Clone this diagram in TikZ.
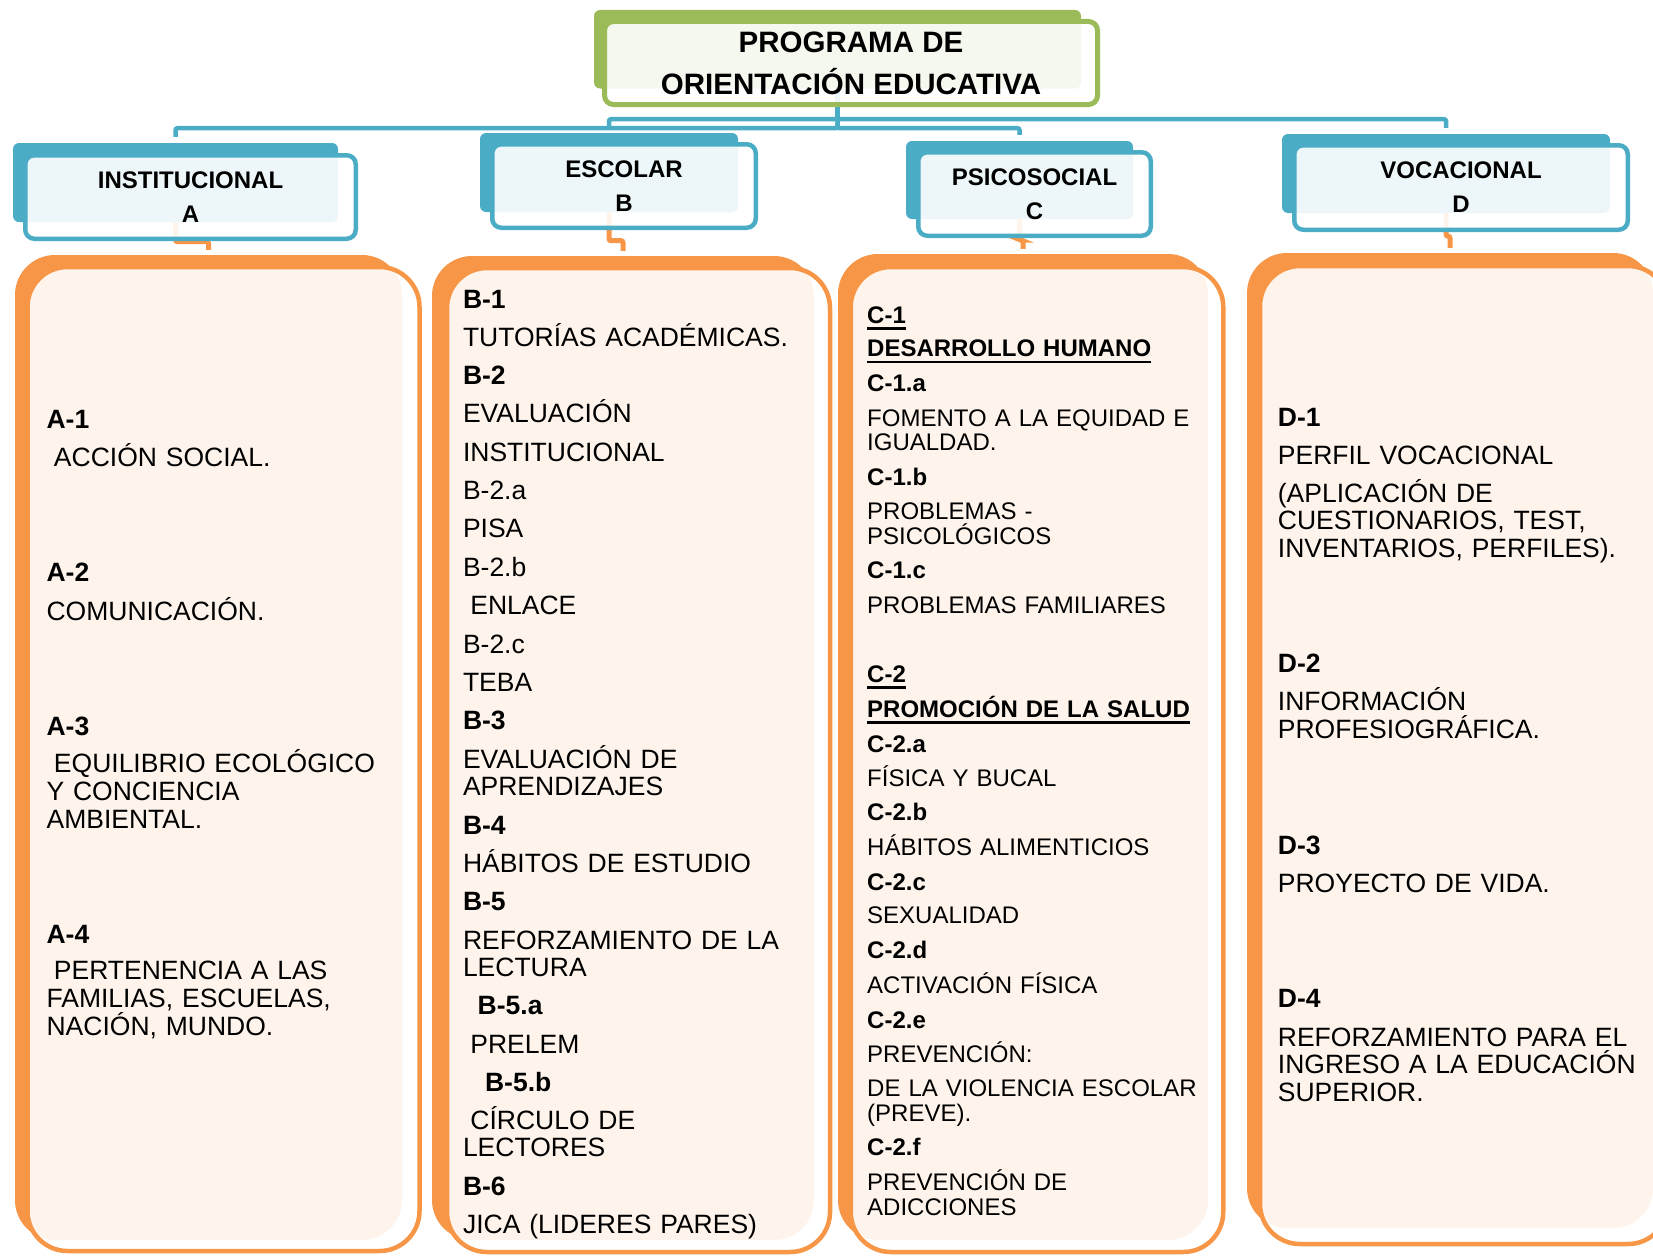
\documentclass[tikz,border=0pt]{standalone}
\usepackage{fontspec}
\setmainfont{Liberation Sans}
\usetikzlibrary{calc}
\definecolor{cblue}{HTML}{4BACC6}
\definecolor{corange}{HTML}{F79646}
\definecolor{cgreen}{HTML}{9BBB59}
\newcommand\lsp{\hspace*{0.278em}}
\newcommand\myul[1]{\setbox0=\hbox{#1}\rlap{\rule[-6.5pt]{\wd0}{2.5pt}}\box0}
\tikzset{
  tback/.style={rectangle, fill=cgreen, rounded corners=6pt, inner sep=0pt},
  tfront/.style={rectangle, draw=cgreen, line width=5pt, fill=white, fill opacity=0.9, text opacity=1,
    rounded corners=9pt, inner sep=0pt, align=center, font=\fontsize{29.5}{42}\selectfont\bfseries},
  hback/.style={rectangle, fill=cblue, rounded corners=6pt, inner sep=0pt},
  hfront/.style={rectangle, draw=cblue, line width=4.5pt, fill=white, fill opacity=0.9, text opacity=1,
    rounded corners=9pt, inner sep=0pt, align=center, font=\fontsize{24}{34.2}\selectfont\bfseries},
  oback/.style={rectangle, fill=corange, rounded corners=40pt, inner sep=0pt},
  ofront/.style={rectangle, draw=corange, line width=4.5pt, fill=white, fill opacity=0.9,
    rounded corners=40pt, inner sep=0pt},
  bconn/.style={draw=cblue, line width=4.5pt, rounded corners=2pt, shorten >=6pt},
  oconn/.style={draw=corange, line width=5pt, rounded corners=2pt, shorten >=5pt},
  tA/.style={anchor=base west, inner sep=0pt, text width=400pt, align=left, font=\fontsize{26.5}{28}\selectfont},
  tB/.style={anchor=base west, inner sep=0pt, text width=400pt, align=left, font=\fontsize{26.5}{27.5}\selectfont},
  tC/.style={anchor=base west, inner sep=0pt, text width=400pt, align=left, font=\fontsize{24}{24.7}\selectfont},
}
\begin{document}
\begin{tikzpicture}[x=1pt, y=-1pt]
\useasboundingbox (0,0) rectangle (1653,1255);
% title back and header backs
\node[tback, minimum width=487pt, minimum height=78.5pt] (Tb) at (837.5,49.25) {};
\node[hback, minimum width=325pt, minimum height=79pt] (hAb) at (175.5,182.5) {};
\node[hback, minimum width=258pt, minimum height=79pt] (hBb) at (609,172.5) {};
\node[hback, minimum width=227pt, minimum height=78pt] (hCb) at (1019.5,180) {};
\node[hback, minimum width=328pt, minimum height=79pt] (hDb) at (1446,173.5) {};
% blue connectors
\draw[bconn] (Tb.south) -- ++(0,39.5) -| (hAb.north);
\draw[bconn] (Tb.south) -- ++(0,30.5) -| (hBb.north);
\draw[bconn] (Tb.south) -- ++(0,39.5) -| (hCb.north);
\draw[bconn] (Tb.south) -- ++(0,30.5) -| (hDb.north);
% title front
\node[tfront, minimum width=493pt, minimum height=83pt] (Tf) at (851,63) {PROGRAMA DE\\ORIENTACIÓN EDUCATIVA};
% orange backs
\node[oback, minimum width=387pt, minimum height=985pt] (oAb) at (208.5,747.5) {};
\node[oback, minimum width=382pt, minimum height=984pt] (oBb) at (623,748) {};
\node[oback, minimum width=370pt, minimum height=986pt] (oCb) at (1023,747) {};
\node[oback, minimum width=406pt, minimum height=975pt] (oDb) at (1450,740.5) {};
% orange connectors
\draw[oconn] (hAb.south) -- ++(0,19.5) -| (oAb.north);
\draw[oconn] (hBb.south) -- ++(0,28.5) -| (oBb.north);
\draw[oconn] (hCb.south) -- ++(0,21) -| (oCb.north);
\draw[oconn] (hDb.south) -- ++(0,23) -| (oDb.north);
% header fronts
\node[hfront, minimum width=330.5pt, minimum height=83.5pt] (hAf) at (190.5,197) {INSTITUCIONAL\\A};
\node[hfront, minimum width=263.5pt, minimum height=83.5pt] (hBf) at (624,186) {ESCOLAR\\B};
\node[hfront, minimum width=232.5pt, minimum height=83.5pt] (hCf) at (1034.5,194) {PSICOSOCIAL\\C};
\node[hfront, minimum width=333.5pt, minimum height=84.5pt] (hDf) at (1461,187.5) {VOCACIONAL\\D};
% orange fronts
\node[ofront, minimum width=392pt, minimum height=984pt] (oAf) at (223.5,759) {};
\node[ofront, minimum width=383pt, minimum height=984pt] (oBf) at (638.5,760) {};
\node[ofront, minimum width=372.5pt, minimum height=985pt] (oCf) at (1037,759.5) {};
\node[ofront, minimum width=408pt, minimum height=978pt] (oDf) at (1464,755) {};
% column A
\node[tA] (a1) at (46.4,428) {\textbf{A-1}};
\node[tA] (a1t) at (46.4,466) {\lsp ACCIÓN SOCIAL.};
\node[tA] (a2) at (46.4,581) {\textbf{A-2}};
\node[tA] (a2t) at (46.4,620) {COMUNICACIÓN.};
\node[tA] (a3) at (46.4,735) {\textbf{A-3}};
\node[tA] (a3t) at (46.4,772) {\lsp EQUILIBRIO ECOLÓGICO\\Y CONCIENCIA\\AMBIENTAL.};
\node[tA] (a4) at (46.4,943) {\textbf{A-4}};
\node[tA] (a4t) at (46.4,979.5) {\lsp PERTENENCIA A LAS\\FAMILIAS, ESCUELAS,\\NACIÓN, MUNDO.};
% column B
\node[tB] (b1) at (462.8,308) {\textbf{B-1}};
\node[tB] (b1t) at (462.8,346) {TUTORÍAS ACADÉMICAS.};
\node[tB] (b2) at (462.8,384) {\textbf{B-2}};
\node[tB] (b2t) at (462.8,422) {EVALUACIÓN};
\node[tB] (b2u) at (462.8,461) {INSTITUCIONAL};
\node[tB] (b2a) at (462.8,499) {B-2.a};
\node[tB] (b2at) at (462.8,537) {PISA};
\node[tB] (b2b) at (462.8,576) {B-2.b};
\node[tB] (b2bt) at (462.8,614) {\lsp ENLACE};
\node[tB] (b2c) at (462.8,653) {B-2.c};
\node[tB] (b2ct) at (462.8,691) {TEBA};
\node[tB] (b3) at (462.8,729) {\textbf{B-3}};
\node[tB] (b3t) at (462.8,768) {EVALUACIÓN DE\\APRENDIZAJES};
\node[tB] (b4) at (462.8,834) {\textbf{B-4}};
\node[tB] (b4t) at (462.8,872) {HÁBITOS DE ESTUDIO};
\node[tB] (b5) at (462.8,910) {\textbf{B-5}};
\node[tB] (b5t) at (462.8,949) {REFORZAMIENTO DE LA\\LECTURA};
\node[tB] (b5a) at (462.8,1014) {\lsp\lsp\textbf{B-5.a}};
\node[tB] (b5at) at (462.8,1053) {\lsp PRELEM};
\node[tB] (b5b) at (462.8,1091) {\lsp\lsp\lsp\textbf{B-5.b}};
\node[tB] (b5bt) at (462.8,1129) {\lsp CÍRCULO DE\\LECTORES};
\node[tB] (b6) at (462.8,1195.5) {\textbf{B-6}};
\node[tB] (b6t) at (462.8,1233.5) {JICA (LIDERES PARES)};
% column C
\node[tC] (c1) at (867,323) {\myul{\textbf{C-1}}};
\node[tC] (c1t) at (867,356.7) {\myul{\textbf{DESARROLLO HUMANO}}};
\node[tC] (c1a) at (867,391.7) {\textbf{C-1.a}};
\node[tC] (c1at) at (867,426) {FOMENTO A LA EQUIDAD E\\IGUALDAD.};
\node[tC] (c1b) at (867,485) {\textbf{C-1.b}};
\node[tC] (c1bt) at (867,519.3) {PROBLEMAS -\\PSICOLÓGICOS};
\node[tC] (c1c) at (867,578.3) {\textbf{C-1.c}};
\node[tC] (c1ct) at (867,613.3) {PROBLEMAS FAMILIARES};
\node[tC] (c2) at (867,682) {\myul{\textbf{C-2}}};
\node[tC] (c2t) at (867,717) {\myul{\textbf{PROMOCIÓN DE LA SALUD}}};
\node[tC] (c2a) at (867,752) {\textbf{C-2.a}};
\node[tC] (c2at) at (867,786.5) {FÍSICA Y BUCAL};
\node[tC] (c2b) at (867,820) {\textbf{C-2.b}};
\node[tC] (c2bt) at (867,855) {HÁBITOS ALIMENTICIOS};
\node[tC] (c2c) at (867,890) {\textbf{C-2.c}};
\node[tC] (c2ct) at (867,923.6) {SEXUALIDAD};
\node[tC] (c2d) at (867,958.5) {\textbf{C-2.d}};
\node[tC] (c2dt) at (867,993) {ACTIVACIÓN FÍSICA};
\node[tC] (c2e) at (867,1028) {\textbf{C-2.e}};
\node[tC] (c2et) at (867,1062) {PREVENCIÓN:};
\node[tC] (c2eu) at (867,1096.5) {DE LA VIOLENCIA ESCOLAR\\(PREVE).};
\node[tC] (c2f) at (867,1155.3) {\textbf{C-2.f}};
\node[tC] (c2ft) at (867,1190.5) {PREVENCIÓN DE\\ADICCIONES};
% column D
\node[tB] (d1) at (1277.7,426) {\textbf{D-1}};
\node[tB] (d1t) at (1277.7,464) {PERFIL VOCACIONAL};
\node[tB] (d1u) at (1277.7,502) {(APLICACIÓN DE\\CUESTIONARIOS, TEST,\\INVENTARIOS, PERFILES).};
\node[tB] (d2) at (1277.7,672.6) {\textbf{D-2}};
\node[tB] (d2t) at (1277.7,710.5) {INFORMACIÓN\\PROFESIOGRÁFICA.};
\node[tB] (d3) at (1277.7,854) {\textbf{D-3}};
\node[tB] (d3t) at (1277.7,892) {PROYECTO DE VIDA.};
\node[tB] (d4) at (1277.7,1007) {\textbf{D-4}};
\node[tB] (d4t) at (1277.7,1046) {REFORZAMIENTO PARA EL\\INGRESO A LA EDUCACIÓN\\SUPERIOR.};
\end{tikzpicture}
\end{document}
